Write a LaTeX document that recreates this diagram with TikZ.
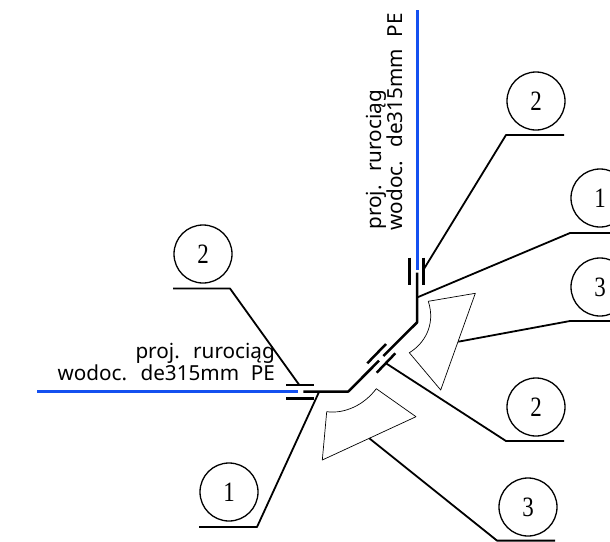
\documentclass[tikz,border=0pt]{standalone}
\usepackage{fontspec}
\setmainfont{Liberation Serif}
\newfontfamily\cadfont{Noto Sans}
\definecolor{pipeblue}{RGB}{20,80,240}
\newcommand{\bubnum}[1]{\scalebox{0.82}[1]{#1}}
\tikzset{
  bubble/.style={circle,draw=black,line width=1.3pt,minimum size=58pt,inner sep=0pt,font=\fontsize{28}{30}\selectfont},
  leader/.style={line width=1.8pt,black},
  pipe/.style={line width=2.5pt,black},
  bluepipe/.style={line width=3pt,pipeblue},
  flange/.style={line width=2.5pt,black},
  sector/.style={line width=0.7pt,black},
  cadtext/.style={inner sep=0pt,font=\cadfont\fontsize{20.7}{23}\selectfont}
}
\begin{document}
\begin{tikzpicture}[x=1pt,y=-1pt]
\useasboundingbox (0,0) rectangle (610,541);
\clip (0,0) rectangle (610,541);
\fill[white] (0,0) rectangle (610,541);
% bubbles
\node[bubble] (b2top) at (536,101) {\bubnum{2}};
\node[bubble] (b1right) at (600,198) {\bubnum{1}};
\node[bubble] (b3right) at (600,287) {\bubnum{3}};
\node[bubble] (b2low) at (536,407) {\bubnum{2}};
\node[bubble] (b3bot) at (528,507) {\bubnum{3}};
\node[bubble] (b1left) at (229,492) {\bubnum{1}};
\node[bubble] (b2left) at (203,254) {\bubnum{2}};
% pipe points
\coordinate (bluetop) at (417,10);
\coordinate (blueend) at (417,270);
\coordinate (v1) at (417,272.5);
\coordinate (v2) at (417,322.5);
\coordinate (d1) at (383.3,356);
\coordinate (d2) at (379,360.7);
\coordinate (h1) at (348.3,391.5);
\coordinate (h2) at (303.3,391.5);
\coordinate (blueleftend) at (298,391.5);
\coordinate (blueleft) at (37,391.5);
\draw[bluepipe] (bluetop) -- (blueend);
\draw[bluepipe] (blueleft) -- (blueleftend);
\draw[pipe,line join=round] (v1) -- (v2) -- (d1);
\draw[pipe,line join=round] (d2) -- (h1) -- (h2);
% flanges
\coordinate (fa1) at (409.7,257.5); \coordinate (fa2) at (409.7,284.5);
\coordinate (fb1) at (423.3,257.5); \coordinate (fb2) at (423.3,284.5);
\coordinate (fc1) at (367.3,363.3); \coordinate (fc2) at (386,344);
\coordinate (fd1) at (376.7,372.7); \coordinate (fd2) at (395.3,353.3);
\coordinate (fe1) at (286,385); \coordinate (fe2) at (314,385);
\coordinate (ff1) at (286,398.3); \coordinate (ff2) at (314,398.3);
\draw[flange] (fa1) -- (fa2);
\draw[flange] (fb1) -- (fb2);
\draw[flange] (fc1) -- (fc2);
\draw[flange] (fd1) -- (fd2);
\draw[flange] (fe1) -- (fe2);
\draw[flange] (ff1) -- (ff2);
% sectors
\coordinate (sa1) at (428.3,301.3); \coordinate (sa2) at (475.3,293.3);
\coordinate (sa3) at (440.7,390); \coordinate (sa4) at (409.3,352.7);
\draw[sector,line join=round] (sa1) -- (sa2) -- (sa3) -- (sa4) .. controls (424,344) and (436,325) .. (sa1);
\coordinate (sb1) at (326.7,411.7); \coordinate (sb2) at (322.3,460);
\coordinate (sb3) at (416,416.7); \coordinate (sb4) at (376.3,388.7);
\draw[sector,line join=round] (sb1) -- (sb2) -- (sb3) -- (sb4) .. controls (364,405) and (345,414) .. (sb1);
% leaders
\coordinate (l1) at (564,135); \coordinate (l1a) at (506,135); \coordinate (l1b) at (423.3,270);
\draw[leader,line join=round] (l1) -- (l1a) -- (l1b);
\coordinate (l2) at (610,233); \coordinate (l2a) at (570,233); \coordinate (l2b) at (417,297.5);
\draw[leader,line join=round] (l2) -- (l2a) -- (l2b);
\coordinate (l3) at (610,321); \coordinate (l3a) at (570,321); \coordinate (l3b) at (458.3,341.7);
\draw[leader,line join=round] (l3) -- (l3a) -- (l3b);
\coordinate (l4) at (564,441); \coordinate (l4a) at (506,441); \coordinate (l4b) at (386,363.3);
\draw[leader,line join=round] (l4) -- (l4a) -- (l4b);
\coordinate (l5) at (555,540.6); \coordinate (l5a) at (497,540.6); \coordinate (l5b) at (369.3,438.3);
\draw[leader,line join=round] (l5) -- (l5a) -- (l5b);
\coordinate (l6) at (199,527); \coordinate (l6a) at (257,527); \coordinate (l6b) at (319,392);
\draw[leader,line join=round] (l6) -- (l6a) -- (l6b);
\coordinate (l7) at (173,288.5); \coordinate (l7a) at (230,288.5); \coordinate (l7b) at (299.3,385);
\draw[leader,line join=round] (l7) -- (l7a) -- (l7b);
% texts
\node[cadtext,anchor=base east] (t1) at (275,358) {proj.\hspace{0.3em} rurociąg};
\node[cadtext,anchor=base east] (t2) at (275,380) {wodoc.\hspace{0.3em} de315mm\hspace{0.3em} PE};
\node[cadtext,anchor=base east,rotate=90] (t3) at (381,90) {proj.\hspace{0.3em} rurociąg};
\node[cadtext,anchor=base east,rotate=90] (t4) at (402.5,13) {wodoc.\hspace{0.3em} de315mm\hspace{0.3em} PE};
\end{tikzpicture}
\end{document}
